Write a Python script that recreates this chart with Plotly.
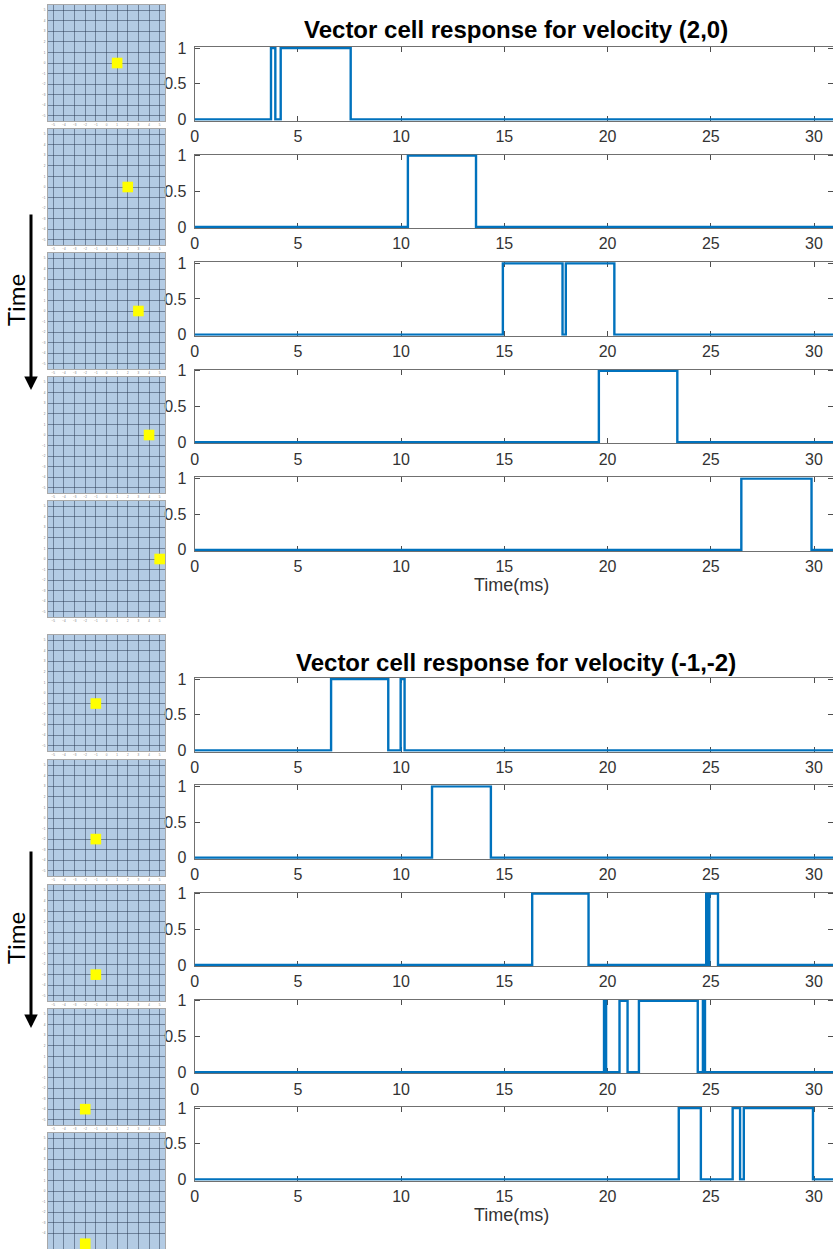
import plotly.graph_objects as go

W, H = 833, 1249

# ---------------- data ----------------
top_title = "Vector cell response for velocity (2,0)"
bottom_title = "Vector cell response for velocity (-1,-2)"
x_title = "Time(ms)"
arrow_label = "Time"

x_ticks = [0, 5, 10, 15, 20, 25, 30]
y_ticks = [0, 0.5, 1]
y_tick_text = ["0", "0.5", "1"]
t_max = 30.92

# switching times (ms): each cell output starts at 0 and toggles at every listed time
top_switch_ms = [
    [3.70, 3.91, 4.17, 7.56],
    [10.33, 13.63],
    [14.93, 17.82, 17.98, 20.33],
    [19.58, 23.38],
    [26.48, 29.88],
]
bottom_switch_ms = [
    [6.61, 9.38, 9.98, 10.17],
    [11.50, 14.35],
    [16.35, 19.08, 24.78, 24.86, 24.93, 25.35],
    [19.83, 19.93, 20.58, 20.97, 21.52, 24.37, 24.62, 24.72],
    [23.45, 24.52, 26.06, 26.42, 26.60, 29.95],
]

# grid thumbnails: position of the stimulated (yellow) cell in each frame
grid_ticks = [-5, -4, -3, -2, -1, 0, 1, 2, 3, 4, 5]
top_cell_x = [1, 2, 3, 4, 5]
top_cell_y = [0, 0, 0, 0, 0]
bottom_cell_x = [-1, -1, -1, -2, -2]
bottom_cell_y = [-1, -2, -3, -4, -5]

# ---------------- geometry (pixels) ----------------
PLOT_LEFT = 194.6
plot_tops = [[47, 154.6, 262.2, 369.8, 477.4], [678, 785.3, 892.5, 999.8, 1107]]
PLOT_H = 73.5
thumb_tops = [[5, 129, 253, 377, 501], [635, 760, 885, 1009, 1133]]
THUMB_L, THUMB_R, THUMB_H = 48, 165, 116

FONT = "Liberation Sans, Arial, sans-serif"
BLUE = "#0072BD"
TICK_COLOR = "#333333"


def dx(a, b):
    return [max(0.0, a / W), min(1.0, b / W)]


def dy(top, bottom):
    return [max(0.0, 1 - bottom / H), min(1.0, 1 - top / H)]


fig = go.Figure()
layout_axes = {}
shapes = []
annotations = []
counter = [0]


def names():
    counter[0] += 1
    k = counter[0]
    s = "" if k == 1 else str(k)
    return k, "x" + s, "y" + s, "xaxis" + s, "yaxis" + s


groups = [
    (top_switch_ms, top_cell_x, top_cell_y),
    (bottom_switch_ms, bottom_cell_x, bottom_cell_y),
]

for g, (switches, cx, cy) in enumerate(groups):
    for i in range(5):
        # ---- response panel ----
        k, xr, yr, xk, yk = names()
        xs, ys, level = [0.0], [0], 0
        for t in switches[i]:
            level = 1 - level
            xs.append(t)
            ys.append(level)
        xs.append(t_max)
        ys.append(level)
        fig.add_trace(go.Scatter(
            x=xs, y=ys, mode="lines",
            line=dict(color=BLUE, width=2.4, shape="hv"),
            xaxis=xr, yaxis=yr, showlegend=False, hoverinfo="skip"))
        top = plot_tops[g][i]
        layout_axes[xk] = dict(
            domain=dx(PLOT_LEFT, W), range=[0, t_max], tickvals=x_ticks,
            ticks="inside", ticklen=5, tickcolor="#4d4d4d", tickwidth=1,
            showline=True, linecolor="#707070", linewidth=1, mirror="ticks",
            showgrid=False, zeroline=False, layer="below traces",
            automargin=False, ticklabelstandoff=1,
            tickfont=dict(family=FONT, size=16, color=TICK_COLOR),
            anchor=yr, fixedrange=True)
        layout_axes[yk] = dict(
            domain=dy(top, top + PLOT_H), range=[-0.015, 1.015],
            tickvals=y_ticks, ticktext=y_tick_text,
            ticks="inside", ticklen=5, tickcolor="#4d4d4d", tickwidth=1,
            showline=True, linecolor="#707070", linewidth=1, mirror="ticks",
            showgrid=False, zeroline=False, layer="below traces",
            automargin=False, ticklabelstandoff=4,
            tickfont=dict(family=FONT, size=16, color=TICK_COLOR),
            anchor=xr, fixedrange=True)

        # ---- grid thumbnail ----
        k, xr, yr, xk, yk = names()
        ttop = thumb_tops[g][i]
        fig.add_trace(go.Scatter(
            x=[cx[i]], y=[cy[i]], mode="markers",
            marker=dict(symbol="square", size=10.6, color="#ffff00",
                        line=dict(width=0)),
            xaxis=xr, yaxis=yr, showlegend=False, hoverinfo="skip"))
        common = dict(range=[-5.5, 5.5], showgrid=True,
                      gridcolor="rgba(40,55,80,0.5)", gridwidth=1,
                      zeroline=False, showline=True, linecolor="#a8a8a8",
                      linewidth=1, mirror=True, ticks="", automargin=False,
                      tickfont=dict(family=FONT, size=3, color="#777777"),
                      fixedrange=True)
        last = (g == 1 and i == 4)
        layout_axes[xk] = dict(domain=dx(THUMB_L, THUMB_R), anchor=yr,
                               tickvals=grid_ticks, showticklabels=not last,
                               **common)
        layout_axes[yk] = dict(domain=dy(ttop, ttop + THUMB_H), anchor=xr,
                               tickvals=grid_ticks[1:] if last else grid_ticks,
                               ticklabelstandoff=1, **common)
        shapes.append(dict(type="rect", xref=xr + " domain", yref=yr + " domain",
                           x0=0, x1=1, y0=0, y1=1, fillcolor="#b3cbe4",
                           line=dict(width=0), layer="below"))

# titles
for title, yc in [(top_title, 30), (bottom_title, 662)]:
    annotations.append(dict(text="<b>" + title + "</b>", x=516 / W, y=1 - yc / H,
                            xref="paper", yref="paper", showarrow=False,
                            xanchor="center", yanchor="middle",
                            font=dict(family=FONT, size=24, color="black")))
# x-axis labels
for yc in [585, 1215]:
    annotations.append(dict(text=x_title, x=511 / W, y=1 - yc / H,
                            xref="paper", yref="paper", showarrow=False,
                            xanchor="center", yanchor="middle",
                            font=dict(family=FONT, size=18, color=TICK_COLOR)))
# time arrows
for tail, tip, label_y in [(213, 390, 300), (850, 1028, 938)]:
    annotations.append(dict(text="", x=31 / W, y=1 - tip / H, xref="paper", yref="paper",
                            ax=0, ay=-(tip - tail), showarrow=True, arrowhead=2,
                            arrowwidth=3, arrowsize=0.9, arrowcolor="black"))
    annotations.append(dict(text=arrow_label, x=15 / W, y=1 - label_y / H,
                            xref="paper", yref="paper", showarrow=False,
                            textangle=-90, xanchor="center", yanchor="middle",
                            font=dict(family="Lato, Liberation Sans, sans-serif",
                                      size=24, color="black")))

fig.update_layout(
    template="none",
    width=W, height=H, margin=dict(l=0, r=0, t=0, b=0, autoexpand=False),
    paper_bgcolor="white", plot_bgcolor="white",
    shapes=shapes, annotations=annotations, showlegend=False,
    **layout_axes)

fig.write_html("out.html", config={"displayModeBar": False},
               post_script="document.body.style.margin='0';document.body.style.overflow='hidden';")
